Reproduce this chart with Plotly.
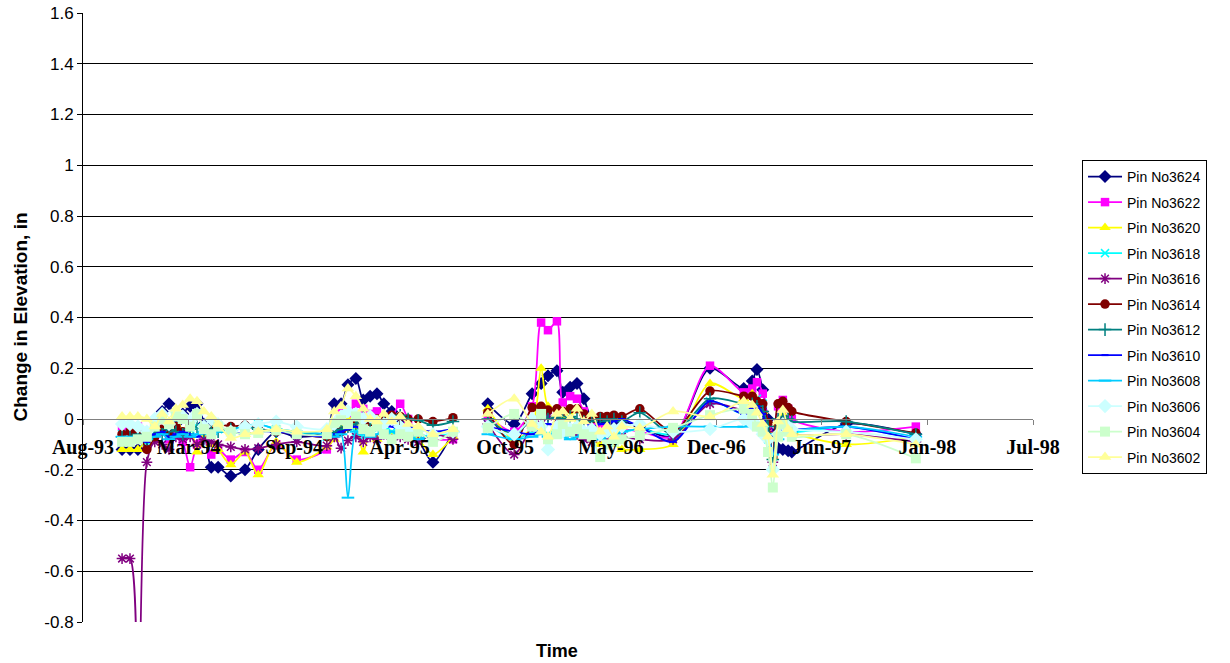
import plotly.graph_objects as go

# Survey dates (readings), with one empty survey in Aug-95 that breaks the lines
survey_dates = [
    "1993-11-01", "1993-11-16", "1993-12-01", "1993-12-18", "1994-01-02", "1994-01-16", "1994-01-29", "1994-02-11", "1994-02-24", "1994-03-10",
    "1994-03-23", "1994-04-05", "1994-04-19", "1994-05-02", "1994-05-26", "1994-06-22", "1994-07-17", "1994-08-20", "1994-09-28", "1994-11-24",
    "1994-12-08", "1994-12-21", "1995-01-03", "1995-01-18", "1995-02-01", "1995-02-14", "1995-02-27", "1995-03-12", "1995-03-27", "1995-04-12",
    "1995-04-27", "1995-05-16", "1995-06-13", "1995-07-21",
    "1995-08-25",
    "1995-09-25", "1995-11-14", "1995-12-18", "1996-01-04", "1996-01-17", "1996-02-03", "1996-02-14", "1996-02-28", "1996-03-12", "1996-03-25",
    "1996-04-09", "1996-04-25", "1996-05-08", "1996-05-21", "1996-06-05", "1996-07-09", "1996-09-10", "1996-11-19", "1997-01-22", "1997-02-07",
    "1997-02-16", "1997-02-27", "1997-03-09", "1997-03-18", "1997-03-28", "1997-04-06", "1997-04-16", "1997-04-23", "1997-08-04", "1997-12-14",
]

# Change in elevation (in) per pin
pin_3624 = [-0.12, -0.12, -0.12, -0.08, -0.05, 0.03, 0.06, -0.02, 0.02, 0.05, 0.06, -0.02, -0.19, -0.19, -0.225, -0.20, -0.12, -0.05, -0.07, -0.05, 0.06, 0.06, 0.135, 0.16, 0.075, 0.09, 0.10, 0.06, 0.03, 0.00, -0.04, -0.08, -0.17, -0.05] + [None] + \
           [0.06, -0.02, 0.10, 0.14, 0.17, 0.19, 0.105, 0.125, 0.14, 0.08, 0.00, -0.02, -0.03, -0.02, -0.01, -0.03, -0.07, 0.20, 0.12, 0.15, 0.195, 0.115, 0.00, -0.06, -0.115, -0.12, -0.125, -0.13, -0.02, -0.06]
pin_3622 = [-0.03, -0.03, -0.03, -0.06, -0.07, -0.05, -0.08, -0.06, -0.09, -0.19, -0.10, -0.07, -0.14, -0.12, -0.16, -0.13, -0.20, -0.10, -0.16, -0.12, -0.06, 0.035, 0.02, 0.06, 0.04, 0.02, 0.03, 0.00, 0.01, 0.06, 0.00, -0.05, -0.08, -0.08] + [None] + \
           [0.01, -0.05, 0.05, 0.38, 0.35, 0.385, 0.065, 0.09, 0.08, 0.03, -0.02, -0.04, -0.06, -0.05, -0.04, -0.05, -0.07, 0.21, 0.105, 0.12, 0.145, 0.10, -0.03, -0.14, 0.05, 0.075, 0.04, 0.00, -0.05, -0.03]
pin_3620 = [-0.12, -0.12, -0.12, -0.08, -0.04, 0.00, -0.03, 0.02, -0.05, -0.02, -0.13, -0.06, -0.10, -0.12, -0.18, -0.13, -0.22, -0.09, -0.17, -0.11, -0.08, -0.04, 0.00, -0.03, -0.13, -0.05, -0.08, -0.04, -0.06, -0.03, -0.06, -0.08, -0.14, -0.07] + [None] + \
           [0.04, -0.08, -0.03, 0.20, 0.05, 0.04, 0.00, 0.03, -0.02, -0.05, -0.08, -0.10, -0.09, -0.10, -0.12, -0.12, -0.10, 0.14, 0.08, 0.10, 0.06, 0.03, -0.05, -0.15, -0.02, 0.02, -0.03, -0.05, -0.10, -0.07]
pin_3618 = [-0.06, -0.06, -0.07, -0.09, -0.06, -0.04, -0.05, -0.02, -0.06, -0.04, -0.03, -0.05, -0.05, -0.04, -0.05, -0.03, -0.02, -0.04, -0.05, -0.07, -0.05, -0.04, -0.03, -0.05, -0.07, -0.06, -0.04, -0.03, -0.05, -0.04, -0.05, -0.06, -0.07, -0.05] + [None] + \
           [-0.02, -0.08, -0.05, -0.04, -0.06, -0.03, -0.05, -0.04, -0.06, -0.05, -0.04, -0.05, -0.06, -0.04, -0.05, -0.04, -0.06, 0.07, 0.02, 0.05, 0.08, 0.06, -0.08, -0.175, -0.05, 0.00, -0.03, -0.05, -0.03, -0.08]
pin_3616 = [-0.55, -0.55, -1.25, -0.17, -0.09, -0.10, -0.12, -0.07, -0.08, -0.07, -0.10, -0.08, -0.09, -0.10, -0.11, -0.12, -0.115, -0.10, -0.09, -0.105, -0.07, -0.115, -0.085, -0.07, -0.09, -0.07, -0.08, -0.06, -0.08, -0.07, -0.08, -0.09, -0.06, -0.08] + [None] + \
           [-0.02, -0.14, -0.03, -0.02, 0.01, 0.00, -0.03, -0.05, -0.06, -0.08, -0.09, -0.07, -0.08, -0.06, -0.07, -0.08, -0.08, 0.06, 0.035, 0.04, 0.06, 0.03, -0.05, -0.17, -0.03, 0.00, -0.04, -0.06, -0.06, -0.09]
pin_3614 = [-0.06, -0.05, -0.05, -0.12, -0.07, -0.04, -0.06, -0.03, -0.05, -0.02, 0.02, -0.03, -0.04, -0.02, -0.03, -0.025, -0.04, -0.05, -0.06, -0.07, -0.05, -0.05, -0.03, 0.00, -0.02, -0.01, 0.00, 0.00, 0.015, 0.01, 0.00, 0.00, -0.01, 0.005] + [None] + \
           [0.025, -0.10, 0.045, 0.05, 0.035, 0.04, 0.03, 0.04, 0.04, 0.02, 0.00, 0.01, 0.01, 0.015, 0.01, 0.04, -0.05, 0.11, 0.09, 0.09, 0.07, 0.06, -0.015, -0.15, 0.06, 0.07, 0.045, 0.03, -0.01, -0.055]
pin_3612 = [-0.07, -0.07, -0.06, -0.08, -0.05, -0.06, -0.04, -0.05, -0.06, -0.04, -0.03, -0.05, -0.04, -0.05, -0.04, -0.03, -0.04, -0.05, -0.05, -0.06, -0.05, -0.04, -0.03, -0.02, 0.015, -0.01, -0.02, -0.01, 0.00, 0.015, 0.00, -0.005, -0.025, -0.01] + [None] + \
           [0.00, -0.06, 0.00, 0.01, 0.00, 0.01, 0.00, 0.01, 0.00, -0.01, -0.01, 0.00, -0.01, 0.00, -0.01, 0.025, -0.06, 0.08, 0.06, 0.06, 0.05, 0.03, -0.03, -0.16, 0.00, 0.01, 0.00, -0.01, -0.01, -0.06]
pin_3610 = [-0.09, -0.08, -0.08, -0.09, -0.06, -0.05, -0.07, -0.06, -0.05, -0.06, -0.07, -0.05, -0.06, -0.04, -0.05, -0.06, -0.05, -0.05, -0.06, -0.07, -0.06, -0.05, -0.04, -0.03, -0.05, -0.04, -0.03, -0.02, -0.03, -0.04, -0.03, -0.04, -0.05, -0.04] + [None] + \
           [-0.03, -0.05, -0.06, -0.04, -0.02, -0.03, -0.04, -0.06, -0.03, -0.01, -0.03, -0.02, -0.02, -0.01, 0.00, -0.03, -0.09, 0.07, 0.02, 0.04, 0.05, 0.02, -0.06, -0.13, -0.08, -0.02, -0.03, -0.04, -0.03, -0.08]
pin_3608 = [-0.07, -0.07, -0.08, -0.08, -0.07, -0.06, -0.08, -0.07, -0.06, -0.07, -0.06, -0.05, -0.06, -0.05, -0.04, -0.03, -0.02, -0.04, -0.05, -0.06, -0.07, -0.06, -0.31, -0.05, -0.06, -0.07, -0.06, -0.05, -0.05, -0.06, -0.07, -0.08, -0.06, -0.05] + [None] + \
           [-0.06, -0.08, -0.07, -0.06, -0.07, -0.06, -0.07, -0.08, -0.07, -0.06, -0.07, -0.08, -0.07, -0.06, -0.05, -0.04, -0.03, -0.03, -0.03, -0.02, -0.03, -0.03, -0.06, -0.14, -0.08, -0.05, -0.06, -0.05, -0.03, -0.07]
pin_3606 = [-0.02, -0.02, -0.03, -0.05, 0.00, 0.02, -0.02, 0.03, 0.01, -0.01, 0.02, -0.03, 0.00, -0.02, -0.05, -0.03, -0.02, -0.01, -0.03, -0.04, -0.02, 0.01, 0.03, 0.02, 0.00, 0.01, -0.01, -0.02, 0.00, -0.03, -0.05, -0.04, -0.06, -0.05] + [None] + \
           [-0.03, -0.06, 0.00, -0.03, -0.12, -0.03, -0.05, -0.04, -0.03, -0.05, -0.04, -0.06, -0.05, -0.04, -0.03, -0.02, -0.05, -0.04, 0.00, -0.02, -0.025, -0.06, -0.08, -0.20, -0.06, -0.02, -0.03, -0.04, -0.05, -0.08]
pin_3604 = [-0.09, -0.09, -0.08, -0.07, -0.03, 0.00, -0.02, 0.01, 0.00, -0.03, 0.02, -0.04, -0.06, -0.03, -0.05, -0.06, -0.055, -0.045, -0.06, -0.06, -0.015, -0.005, -0.02, 0.01, -0.04, -0.05, -0.03, -0.06, -0.08, -0.06, -0.07, -0.05, -0.09, -0.05] + [None] + \
           [-0.035, 0.02, -0.03, 0.02, -0.08, -0.06, -0.02, -0.05, -0.04, -0.06, -0.07, -0.15, -0.10, -0.09, -0.08, -0.065, -0.035, 0.015, 0.04, 0.02, -0.03, -0.05, -0.13, -0.27, -0.07, -0.02, -0.05, -0.07, -0.06, -0.155]
pin_3602 = [0.01, 0.01, 0.01, 0.00, -0.03, 0.02, -0.01, 0.04, 0.055, 0.08, 0.07, 0.03, 0.01, -0.02, -0.075, -0.06, -0.05, -0.04, -0.05, -0.04, 0.03, 0.05, 0.12, 0.09, 0.04, 0.00, -0.01, 0.02, -0.01, 0.01, -0.02, -0.03, -0.06, -0.04] + [None] + \
           [0.02, 0.08, -0.02, -0.05, -0.07, 0.02, 0.03, 0.00, 0.04, -0.01, 0.02, -0.05, -0.03, -0.07, -0.03, -0.035, 0.03, 0.01, 0.07, 0.055, 0.025, -0.02, -0.07, -0.22, -0.01, 0.035, -0.04, -0.06, -0.06, -0.10]

pin_names = ["Pin No3624", "Pin No3622", "Pin No3620", "Pin No3618", "Pin No3616", "Pin No3614",
             "Pin No3612", "Pin No3610", "Pin No3608", "Pin No3606", "Pin No3604", "Pin No3602"]
pin_values = [pin_3624, pin_3622, pin_3620, pin_3618, pin_3616, pin_3614,
              pin_3612, pin_3610, pin_3608, pin_3606, pin_3604, pin_3602]

# Axis ticks: every 200 days from Aug-93
x_tick_dates = ["1993-08-19", "1994-03-07", "1994-09-23", "1995-04-11", "1995-10-28",
                "1996-05-15", "1996-12-01", "1997-06-19", "1998-01-05", "1998-07-24"]
x_tick_labels = ["Aug-93", "Mar-94", "Sep-94", "Apr-95", "Oct-95",
                 "May-96", "Dec-96", "Jun-97", "Jan-98", "Jul-98"]
y_tick_values = [-0.8, -0.6, -0.4, -0.2, 0, 0.2, 0.4, 0.6, 0.8, 1.0, 1.2, 1.4, 1.6]
y_tick_labels = ["-0.8", "-0.6", "-0.4", "-0.2", "0", "0.2", "0.4", "0.6", "0.8", "1", "1.2", "1.4", "1.6"]

# Line colour, marker symbol, marker size, open-marker line width
styles = [
    ("#000080", "diamond", 10, 0),
    ("#FF00FF", "square", 8.5, 0),
    ("#FFFF00", "triangle-up", 10, 0),
    ("#00FFFF", "x-thin-open", 8, 1.5),
    ("#800080", "asterisk-open", 9, 1.5),
    ("#800000", "circle", 9.5, 0),
    ("#008080", "cross-thin-open", 9, 1.5),
    ("#0000FF", "line-ew-open", 5, 2),
    ("#00CCFF", "line-ew-open", 9, 2),
    ("#CCFFFF", "diamond", 11, 0),
    ("#CCFFCC", "square", 10, 0),
    ("#FFFF99", "triangle-up", 11, 0),
]

fig = go.Figure()
for name, vals, (color, symbol, size, mlw) in zip(pin_names, pin_values, styles):
    marker = dict(symbol=symbol, size=size, color=color)
    marker["line"] = dict(color=color, width=mlw) if mlw else dict(width=0)
    fig.add_trace(go.Scatter(
        x=survey_dates, y=vals, name=name, legendgroup=name, mode="lines+markers",
        line=dict(color=color, width=1.75, shape="spline", smoothing=0.8),
        marker=marker, connectgaps=False,
    ))

fig.update_layout(
    width=1230, height=663,
    margin=dict(l=83, r=197, t=13, b=41, autoexpand=False),
    plot_bgcolor="white", paper_bgcolor="white",
    font=dict(family="Liberation Sans", color="black"),
    showlegend=True,
    legend=dict(
        x=1.0516, y=0.7586, xanchor="left", yanchor="top",
        bordercolor="black", borderwidth=1, bgcolor="white",
        font=dict(family="Liberation Sans", size=14, color="black"),
        traceorder="grouped", tracegroupgap=4.3, itemwidth=34,
    ),
    xaxis=dict(
        type="date", range=["1993-08-19", "1998-07-24"],
        tickmode="array", tickvals=x_tick_dates, ticktext=x_tick_labels,
        anchor="free", position=1 / 3, automargin=False,
        showline=True, linecolor="#808080", linewidth=1,
        ticks="outside", ticklen=5, tickcolor="#808080",
        showgrid=False, zeroline=False,
        tickfont=dict(family="Liberation Serif", size=20, color="black", weight="bold"),
        ticklabelstandoff=5,
    ),
    yaxis=dict(
        range=[-0.8, 1.6], tickmode="array", tickvals=y_tick_values, ticktext=y_tick_labels,
        automargin=False,
        showgrid=True, gridcolor="black", gridwidth=1,
        zeroline=True, zerolinecolor="#808080", zerolinewidth=1,
        showline=True, linecolor="black", linewidth=1,
        ticks="outside", ticklen=5, tickcolor="black",
        tickfont=dict(family="Liberation Sans", size=17, color="black"),
    ),
    annotations=[
        dict(text="<b>Change in Elevation, in</b>", textangle=-90, xref="paper", yref="paper",
             x=-0.0663, y=0.5, xanchor="center", yanchor="middle", showarrow=False,
             font=dict(family="Liberation Sans", size=19, color="black")),
        dict(text="<b>Time</b>", xref="paper", yref="paper",
             x=0.499, y=-0.0476, xanchor="center", yanchor="middle", showarrow=False,
             font=dict(family="Liberation Sans", size=18, color="black")),
    ],
)

fig.write_html("out.html")
